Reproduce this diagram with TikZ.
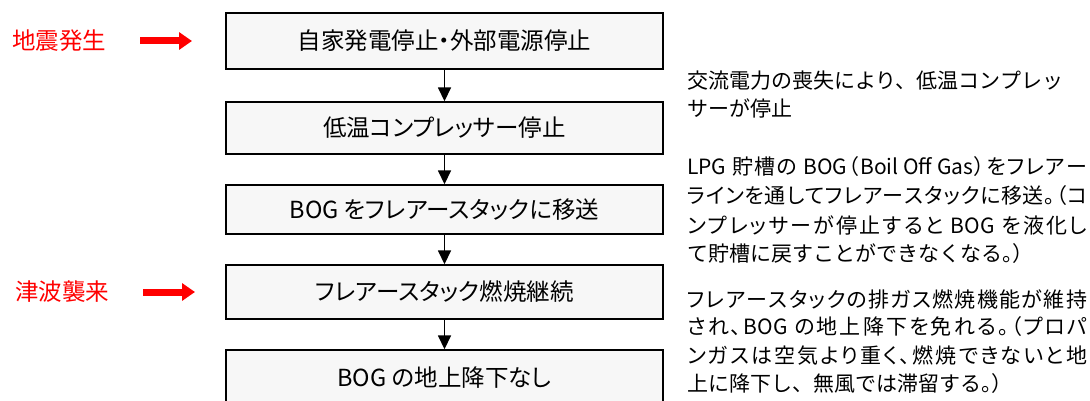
\documentclass[tikz,border=0pt]{standalone}
\usepackage{fontspec}
\setmainfont{Noto Sans CJK JP}
\newfontfamily\jpbox[RawFeature=+palt]{Noto Sans CJK JP}
\usetikzlibrary{arrows.meta}
\definecolor{boxfill}{RGB}{247,247,247}
% justified note lines: glue between every unit
\def\jendmark{\jend}
\def\jspread#1{\def\jtmp{#1}\ifx\jtmp\jendmark\unskip\else#1\hskip0pt plus 1fil minus 1fil\relax\expandafter\jspread\fi}
\newcommand{\jline}[1]{\makebox[400pt][s]{\jpbox\jspread#1\jend}}
\newcommand{\LP}{\makebox[0.5em][r]{（}}
\newcommand{\RP}{\makebox[0.5em][l]{）}}
\newcommand{\Maru}{\makebox[0.5em][l]{。}}
\begin{document}
\begin{tikzpicture}[x=1pt,y=-1pt,
  flowbox/.style={draw=black, line width=1.4pt, fill=boxfill, minimum width=437pt, inner sep=0pt, font=\jpbox\fontsize{23.5}{28}\selectfont},
  flowarrow/.style={line width=1.6pt, -{Triangle[width=13pt,length=14pt]}},
  redarrow/.style={red, line width=7pt, -{Triangle[width=17pt,length=13pt]}},
  redlabel/.style={text=red, font=\jpbox\fontsize{23.5}{28}\selectfont, anchor=west, inner sep=0pt},
  note/.style={anchor=west, inner sep=0pt, font=\fontsize{21}{28}\selectfont}]
\useasboundingbox (0,0) rectangle (1090,401);
\clip (0,0) rectangle (1090,401);

% flow boxes
\node[flowbox, minimum height=56pt] (b1) at (444.5,41) {自家発電停止・外部電源停止};
\node[flowbox, minimum height=52pt] (b2) at (444.5,128) {低温コンプレッサー停止};
\node[flowbox, minimum height=49pt] (b3) at (444.5,209.5) {BOG をフレアースタックに移送};
\node[flowbox, minimum height=54pt] (b4) at (444.5,292) {フレアースタック燃焼継続};
\node[flowbox, minimum height=56pt] (b5) at (444.5,378) {BOG の地上降下なし};

\draw[flowarrow] (b1) -- (b2);
\draw[flowarrow] (b2) -- (b3);
\draw[flowarrow] (b3) -- (b4);
\draw[flowarrow] (b4) -- (b5);

% events
\node[redlabel] (e1) at (12,41) {地震発生};
\node[redlabel] (e2) at (15,292) {津波襲来};
\coordinate (a1s) at (140,41);
\coordinate (a1e) at (192,41);
\coordinate (a2s) at (143,292);
\coordinate (a2e) at (195,292);
\draw[redarrow] (a1s) -- (a1e);
\draw[redarrow] (a2s) -- (a2e);

% notes
\node[note] (n11) at (687,81) {交流電力の喪失により、低温コンプレッ};
\node[note] (n12) at (687,108) {サーが停止};

\node[note] (n21) at (687,167) {\jline{{LPG }貯槽の{ BOG}\LP{Boil Off Gas}\RP をフレアー}};
\node[note] (n22) at (687,196) {\jline{ラインを通してフレアースタックに移送\Maru\LP コ}};
\node[note] (n23) at (687,225) {\jline{ンプレッサーが停止すると{ BOG }を液化し}};
\node[note] (n24) at (687,254) {て貯槽に戻すことができなくなる\Maru）};

\node[note] (n31) at (687,299) {\jline{フレアースタックの排ガス燃焼機能が維持}};
\node[note] (n32) at (687,327) {\jline{され、{BOG }の地上降下を免れる\Maru\LP プロパ}};
\node[note] (n33) at (687,356) {\jline{ンガスは空気より重く、燃焼できないと地}};
\node[note] (n34) at (687,384) {上に降下し、無風では滞留する\Maru）};
\end{tikzpicture}
\end{document}
